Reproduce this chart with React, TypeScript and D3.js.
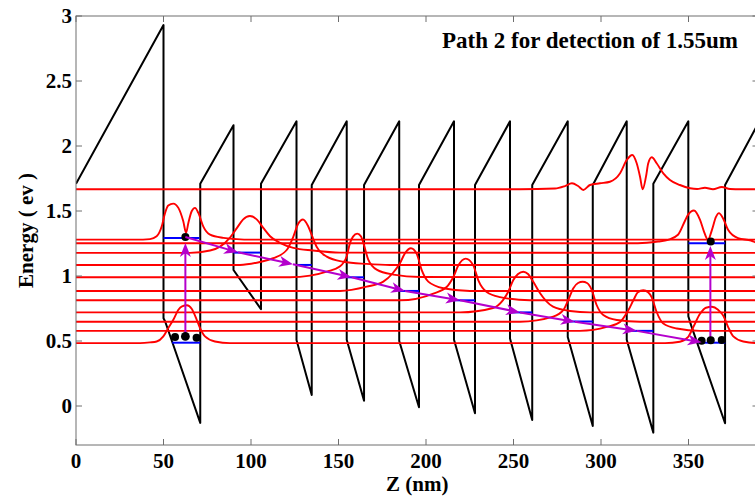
import React, { useRef, useEffect } from 'react'
import * as d3 from 'd3'

// axis ticks
const xTicks = [0, 50, 100, 150, 200, 250, 300, 350]
const yTicks = [0, 0.5, 1, 1.5, 2, 2.5, 3]

// conduction band profile (z in nm, E in eV)
const bandZ = [0, 50, 50, 51, 71, 71, 90, 90, 105.7, 105.7, 126, 126, 134.7, 134.7, 154.7, 154.7, 164.6, 164.6, 184.7, 184.7, 196, 196, 216, 216, 228, 228, 248, 248, 260.7, 260.7, 281, 281, 295.3, 295.3, 314.7, 314.7, 329.9, 329.9, 349.9, 349.9, 351.5, 370.9, 370.9, 390.5]
const bandE = [1.71, 2.93, 0.675, 0.648, -0.13, 1.71, 2.16, 1.046, 0.745, 1.71, 2.19, 0.508, 0.085, 1.70, 2.19, 0.51, 0.04, 1.70, 2.19, 0.50, -0.01, 1.70, 2.19, 0.51, -0.056, 1.70, 2.19, 0.52, -0.108, 1.70, 2.19, 0.53, -0.154, 1.70, 2.19, 0.51, -0.205, 1.71, 2.19, 0.69, 0.62, -0.133, 1.70, 2.19]

// wavefunction baselines (eV)
const stateNames = ['cont', 'w1u', 'w10u', 'w2', 'w3', 'w4', 'w5', 'w6', 'w7', 'w8', 'w9', 'ground']
const stateE = [1.667, 1.28, 1.252, 1.178, 1.085, 0.99, 0.885, 0.813, 0.72, 0.648, 0.578, 0.484]

// |psi|^2 lobes, [z, height above baseline]
const contLobe = [[253.7, 0], [273.7, 0.006], [279.4, 0.025], [283.4, 0.046], [286.9, 0.025], [289.9, -0.005], [293.7, 0.033], [299.4, 0.046], [305.1, 0.058], [310.9, 0.123], [314.7, 0.225], [317.9, 0.264], [320.4, 0.2], [322.3, 0.097], [323.8, 0], [325.7, 0.097], [327, 0.2], [329, 0.246], [331.8, 0.2], [335.6, 0.123], [339.4, 0.072], [345.1, 0.033], [350.9, 0.008], [354.9, 0.002], [359.4, 0.012], [364, 0], [369, 0.018], [373.7, 0.002], [380, 0]]
const w1uLobe = [[34.3, 0], [42.3, 0.004], [46.1, 0.025], [49, 0.102], [50.9, 0.205], [52.7, 0.262], [55.6, 0.277], [58.5, 0.244], [61.3, 0.141], [62.9, 0.054], [64.2, 0.128], [66.1, 0.218], [68, 0.244], [69.9, 0.205], [72.7, 0.102], [76.6, 0.038], [84.2, 0.013], [91.8, 0.004], [99.4, 0]]
const w10uLobe = [[321.1, 0], [332.6, 0.013], [338.3, 0.026], [344, 0.065], [347.8, 0.167], [349.7, 0.218], [353.1, 0.252], [356.6, 0.18], [358.9, 0.088], [361.1, 0.026], [363.4, 0.103], [365.7, 0.203], [367.4, 0.232], [369.7, 0.193], [372.6, 0.103], [378.3, 0.039], [385.7, 0.021], [395, 0.003]]
const w2Lobe = [[65.1, 0], [76.6, 0.018], [82.3, 0.048], [88, 0.118], [92, 0.192], [95.4, 0.256], [99.4, 0.283], [103.4, 0.256], [107, 0.192], [110.9, 0.128], [116.6, 0.077], [124.2, 0.038], [135.4, 0.018], [150.9, 0.002]]
const w3Lobe = [[93.7, 0], [105.1, 0.023], [112.7, 0.052], [120.4, 0.115], [124.2, 0.218], [126.9, 0.315], [129.7, 0.35], [132.6, 0.3], [134.9, 0.223], [137.5, 0.14], [143.3, 0.064], [152.7, 0.025], [166.1, 0.008], [179.4, 0]]
const w4Lobe = [[122.3, 0], [133.7, 0.013], [143.3, 0.044], [150.9, 0.085], [154.7, 0.162], [156.6, 0.265], [158.3, 0.313], [160.7, 0.336], [162.9, 0.313], [164.2, 0.265], [167, 0.136], [171.8, 0.059], [181.3, 0.021], [196.6, 0.002]]
const w5Lobe = [[150.9, 0], [166.1, 0.033], [175.6, 0.072], [181.1, 0.138], [185.1, 0.213], [188, 0.29], [191.4, 0.328], [194.7, 0.285], [197.5, 0.162], [201.3, 0.072], [209.9, 0.021], [225.1, 0]]
const w6Lobe = [[185.1, 0], [204.2, 0.052], [211.8, 0.102], [215.6, 0.179], [218.5, 0.269], [222.7, 0.321], [227, 0.269], [229.9, 0.154], [234.7, 0.064], [242.3, 0.025], [259.4, 0]]
const w7Lobe = [[219.4, 0], [238.3, 0.034], [244, 0.095], [247, 0.159], [249.9, 0.249], [252.6, 0.295], [255.6, 0.313], [258.3, 0.295], [261.3, 0.236], [265.1, 0.149], [272.6, 0.044], [282.3, 0.011], [293.7, 0]]
const w8Lobe = [[253.7, 0], [272.7, 0.039], [278.5, 0.091], [281.3, 0.168], [284.2, 0.258], [286.9, 0.298], [289.5, 0.308], [292, 0.298], [294.7, 0.245], [297.5, 0.129], [301.3, 0.052], [309, 0.014], [322.3, 0]]
const w9Lobe = [[288, 0], [303.3, 0.03], [310.9, 0.068], [315.6, 0.158], [318.5, 0.235], [321.1, 0.297], [324.2, 0.312], [326.9, 0.297], [329, 0.258], [331.8, 0.145], [335.6, 0.056], [343.3, 0.018], [356.6, 0]]
const groundLobeW1 = [[36.6, 0], [42.3, 0.005], [46.1, 0.012], [49.9, 0.051], [52.7, 0.115], [55.6, 0.179], [58.5, 0.256], [60.6, 0.283], [63.4, 0.291], [66.1, 0.264], [69, 0.179], [70.9, 0.115], [73.7, 0.051], [79.4, 0.012], [88, 0]]
const groundLobeW10 = [[336.6, 0], [345.1, 0.01], [349.7, 0.045], [352.7, 0.122], [356.6, 0.225], [360, 0.272], [363.4, 0.279], [366.9, 0.256], [369.9, 0.21], [372.6, 0.125], [375.6, 0.051], [381.3, 0.012], [390.9, 0]]
const stateLobes = [contLobe, w1uLobe, w10uLobe, w2Lobe, w3Lobe, w4Lobe, w5Lobe, w6Lobe, w7Lobe, w8Lobe, w9Lobe, groundLobeW1.concat(groundLobeW10)]

// subband levels drawn in the wells
const levelZ0 = [50, 55, 90, 126, 154.7, 184.7, 216, 248, 281, 314.7, 350, 355.5]
const levelZ1 = [70.5, 71, 105.3, 134.7, 164.6, 196, 228, 260.7, 295.3, 329.9, 370.9, 371]
const levelE = [1.292, 0.487, 1.18, 1.085, 0.99, 0.885, 0.813, 0.72, 0.65, 0.578, 1.252, 0.487]

// transfer path (arrow tips)
const pathZ = [62.5, 92.6, 124, 157.5, 188, 219.4, 253.7, 285, 320.4, 357.5]
const pathE = [1.3, 1.182, 1.09, 0.99, 0.885, 0.813, 0.72, 0.648, 0.578, 0.49]

// absorption arrows
const absZ = [62.5, 362.5]
const absFrom = [0.53, 0.505]
const absTo = [1.254, 1.231]

// electrons
const dotZ = [62.5, 56.6, 62.5, 68.9, 362.7, 357.5, 362.7, 369]
const dotE = [1.3, 0.53, 0.535, 0.525, 1.265, 0.502, 0.505, 0.508]

const W = 755
const H = 497
const font = '"Liberation Serif", "Times New Roman", serif'
const magenta = '#b400cc'

const arrowHead = (tx: number, ty: number, ang: number) => {
  const L = 14
  const hw = 5.5
  const pts = [
    [0, 0],
    [-L, hw],
    [-L * 0.72, 0],
    [-L, -hw]
  ].map(([a, b]) => [tx + a * Math.cos(ang) - b * Math.sin(ang), ty + a * Math.sin(ang) + b * Math.cos(ang)])
  return 'M' + pts.map((p) => p.join(',')).join('L') + 'Z'
}

const BandChart = () => {
  const chartRef = useRef<SVGSVGElement>(null)

  useEffect(() => {
    const svg = d3.select(chartRef.current)
    svg.selectAll('*').remove()

    const x = d3.scaleLinear().domain([0, 390]).range([76, 758.5])
    const y = d3.scaleLinear().domain([-0.3, 3]).range([445, 16])
    const [x0, x1] = x.range()
    const [y0, y1] = y.range()

    svg
      .append('defs')
      .append('clipPath')
      .attr('id', 'plotClip')
      .append('rect')
      .attr('x', x0)
      .attr('y', y1)
      .attr('width', x1 - x0)
      .attr('height', y0 - y1)

    const plot = svg.append('g').attr('clip-path', 'url(#plotClip)')

    // band profile
    const band = bandZ.map((z, i) => [z, bandE[i]])
    plot
      .append('path')
      .attr('d', d3.line().x((d) => x(d[0])).y((d) => y(d[1]))(band as [number, number][]))
      .attr('fill', 'none')
      .attr('stroke', 'black')
      .attr('stroke-width', 2)
      .attr('stroke-linejoin', 'round')

    // wavefunctions
    const wave = d3
      .line<number[]>()
      .x((d) => x(d[0]))
      .y((d) => d[1])
      .curve(d3.curveMonotoneX)
    stateNames.forEach((name, i) => {
      const pts = [[0, 0], ...stateLobes[i], [390, 0]]
        .sort((a, b) => a[0] - b[0])
        .map((p) => [p[0], y(stateE[i] + p[1])])
      plot
        .append('path')
        .attr('class', name)
        .attr('d', wave(pts))
        .attr('fill', 'none')
        .attr('stroke', '#ff0000')
        .attr('stroke-width', 1.9)
    })

    // levels
    levelE.forEach((e, i) => {
      plot
        .append('line')
        .attr('x1', x(levelZ0[i]))
        .attr('x2', x(levelZ1[i]))
        .attr('y1', y(e))
        .attr('y2', y(e))
        .attr('stroke', '#0000ff')
        .attr('stroke-width', 2)
    })

    // vertical absorption arrows
    absZ.forEach((z, i) => {
      plot
        .append('line')
        .attr('x1', x(z))
        .attr('x2', x(z))
        .attr('y1', y(absFrom[i]))
        .attr('y2', y(absTo[i]) + 8)
        .attr('stroke', magenta)
        .attr('stroke-width', 2)
      plot.append('path').attr('d', arrowHead(x(z), y(absTo[i]), -Math.PI / 2)).attr('fill', magenta)
    })

    // dots
    dotZ.forEach((z, i) => {
      plot
        .append('circle')
        .attr('cx', x(z))
        .attr('cy', y(dotE[i]))
        .attr('r', i === 2 ? 4.4 : 4)
        .attr('fill', 'black')
    })

    // transfer path
    for (let i = 1; i < pathZ.length; i++) {
      const ax = x(pathZ[i - 1])
      const ay = y(pathE[i - 1])
      const bx = x(pathZ[i])
      const by = y(pathE[i])
      const ang = Math.atan2(by - ay, bx - ax)
      plot
        .append('line')
        .attr('x1', ax)
        .attr('y1', ay)
        .attr('x2', bx - 8 * Math.cos(ang))
        .attr('y2', by - 8 * Math.sin(ang))
        .attr('stroke', magenta)
        .attr('stroke-width', 2)
      plot.append('path').attr('d', arrowHead(bx, by, ang)).attr('fill', magenta)
    }

    // axes box
    const axisColor = '#6e6e6e'
    svg
      .append('rect')
      .attr('x', x0)
      .attr('y', y1)
      .attr('width', x1 - x0)
      .attr('height', y0 - y1)
      .attr('fill', 'none')
      .attr('stroke', axisColor)
      .attr('stroke-width', 1)

    xTicks.forEach((t) => {
      svg.append('line').attr('x1', x(t)).attr('x2', x(t)).attr('y1', y0).attr('y2', y0 - 6).attr('stroke', axisColor)
      svg.append('line').attr('x1', x(t)).attr('x2', x(t)).attr('y1', y1).attr('y2', y1 + 6).attr('stroke', axisColor)
      svg
        .append('text')
        .attr('x', x(t))
        .attr('y', 468)
        .attr('text-anchor', 'middle')
        .attr('font-family', font)
        .attr('font-weight', 'bold')
        .attr('font-size', 21)
        .text(t)
    })
    yTicks.forEach((t) => {
      svg.append('line').attr('x1', x0).attr('x2', x0 + 6).attr('y1', y(t)).attr('y2', y(t)).attr('stroke', axisColor)
      svg.append('line').attr('x1', x1).attr('x2', x1 - 6).attr('y1', y(t)).attr('y2', y(t)).attr('stroke', axisColor)
      svg
        .append('text')
        .attr('x', 72)
        .attr('y', y(t) + 7)
        .attr('text-anchor', 'end')
        .attr('font-family', font)
        .attr('font-weight', 'bold')
        .attr('font-size', 21)
        .text(t)
    })

    svg
      .append('text')
      .attr('x', (x0 + x1) / 2)
      .attr('y', 491)
      .attr('text-anchor', 'middle')
      .attr('font-family', font)
      .attr('font-weight', 'bold')
      .attr('font-size', 21)
      .text('Z (nm)')
    svg
      .append('text')
      .attr('transform', `translate(33, ${(y0 + y1) / 2}) rotate(-90)`)
      .attr('text-anchor', 'middle')
      .attr('font-family', font)
      .attr('font-weight', 'bold')
      .attr('font-size', 21)
      .text('Energy ( ev )')
    svg
      .append('text')
      .attr('x', 738)
      .attr('y', 48)
      .attr('text-anchor', 'end')
      .attr('font-family', font)
      .attr('font-weight', 'bold')
      .attr('font-size', 23)
      .text('Path 2 for detection of 1.55um')
  }, [])

  return <svg ref={chartRef} width={W} height={H} style={{ position: 'absolute', left: 0, top: 0, background: 'white' }} />
}

export default function App() {
  return <BandChart />
}
